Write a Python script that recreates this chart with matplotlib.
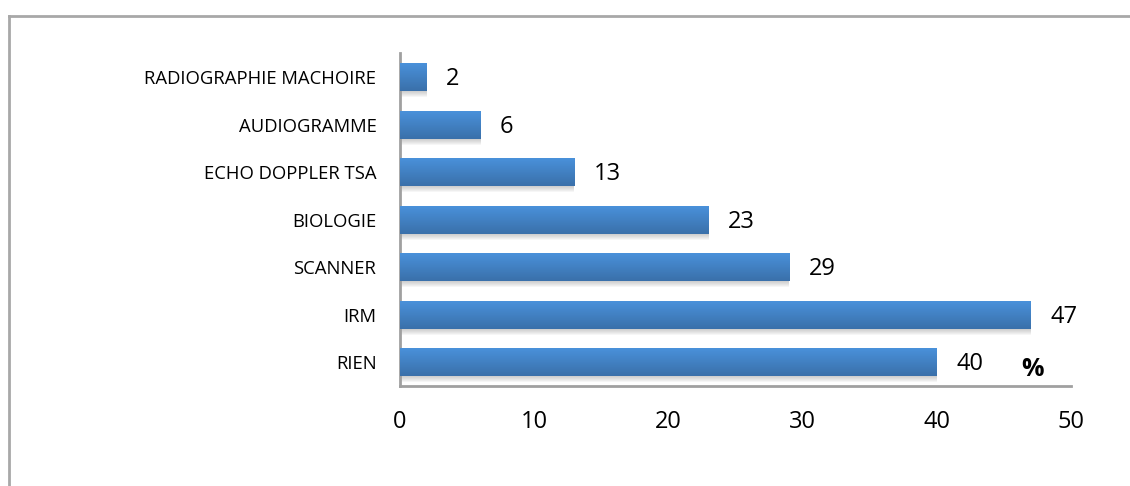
import numpy as np
import matplotlib
matplotlib.use("Agg")
import matplotlib.pyplot as plt
from matplotlib.lines import Line2D
from matplotlib.colors import LinearSegmentedColormap

categories = ["RIEN", "IRM", "SCANNER", "BIOLOGIE", "ECHO DOPPLER TSA",
              "AUDIOGRAMME", "RADIOGRAPHIE MACHOIRE"]
values = [40, 47, 29, 23, 13, 6, 2]
x_ticks = [0, 10, 20, 30, 40, 50]

W, H = 1130, 486
fig = plt.figure(figsize=(W / 100, H / 100), dpi=100)
fig.patch.set_facecolor("white")

ax = fig.add_axes([400 / W, (H - 386) / H, 671 / W, 332.5 / H])
ypos = np.arange(len(categories))
bar_h = 0.59

# soft drop shadow under each bar
px = 1 / 47.5
for k in range(1, 7):
    ax.barh(ypos - k * px, values, height=bar_h, left=0,
            color="#808080", alpha=0.07, zorder=1, linewidth=0)

bars = ax.barh(ypos, values, height=bar_h, color="#4a8bd0", zorder=2, linewidth=0)

# vertical gradient fill: lighter on top, darker at the bottom
cmap = LinearSegmentedColormap.from_list("bar", ["#3a70aa", "#4a92dc"])
grad = np.linspace(0, 1, 64).reshape(-1, 1)
for b in bars:
    x0, y0 = b.get_x(), b.get_y()
    w, h = b.get_width(), b.get_height()
    im = ax.imshow(grad, cmap=cmap, aspect="auto", origin="lower",
                   extent=[x0, x0 + w, y0, y0 + h], zorder=3)
    im.set_clip_path(b)

ax.set_xlim(0, 50)
ax.set_ylim(-0.5, len(categories) - 0.5)
ax.set_xticks(x_ticks)
ax.set_xticklabels([str(t) for t in x_ticks], fontsize=17, family="Open Sans")
ax.set_yticks(ypos)
ax.set_yticklabels(categories, fontsize=13.3, family="Open Sans")
ax.tick_params(axis="y", length=0, pad=17)
ax.tick_params(axis="x", length=0, pad=17)

for s in ["top", "right"]:
    ax.spines[s].set_visible(False)
for s in ["left", "bottom"]:
    ax.spines[s].set_color("#a0a0a0")
    ax.spines[s].set_linewidth(2)

# value labels
for yv, v in zip(ypos, values):
    ax.annotate(str(v), xy=(v, yv), xytext=(14, -1.5), textcoords="offset points",
                va="center", ha="left", fontsize=17, family="Open Sans", zorder=5)

ax.text(1032, H - 369, "%", transform=None, fontsize=18, fontweight="bold",
        family="Open Sans", ha="center", va="center")

# outer frame (left and top edges)
fig.add_artist(Line2D([9 / W, 9 / W], [0, 1 - 16 / H], transform=fig.transFigure,
                      color="#a8a8a8", linewidth=2))
fig.add_artist(Line2D([9 / W, 1], [1 - 16 / H, 1 - 16 / H], transform=fig.transFigure,
                      color="#a8a8a8", linewidth=2))

ax.set_xlim(0, 50)
ax.set_ylim(-0.5, len(categories) - 0.5)

fig.savefig("out.png", dpi=100)
